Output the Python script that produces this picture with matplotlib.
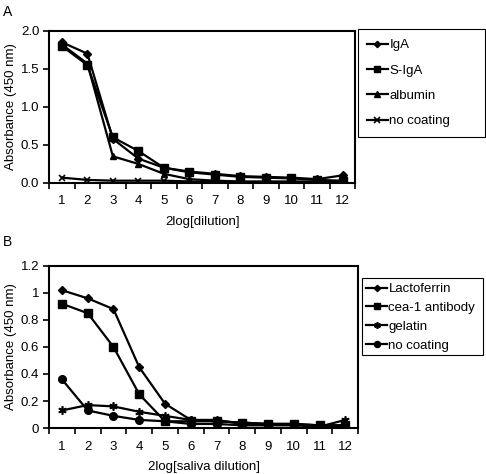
import numpy as np
import matplotlib
matplotlib.use('Agg')
import matplotlib.pyplot as plt
from matplotlib.ticker import FuncFormatter
from matplotlib.patches import Rectangle

plt.rcParams['font.family'] = ['Liberation Sans', 'DejaVu Sans']
plt.rcParams['font.size'] = 9.5

dil = np.arange(1, 13)

# panel A
iga = [1.85, 1.70, 0.58, 0.32, 0.20, 0.15, 0.12, 0.09, 0.08, 0.07, 0.05, 0.10]
sIga = [1.80, 1.55, 0.60, 0.42, 0.20, 0.14, 0.11, 0.08, 0.07, 0.06, 0.04, 0.03]
albumin = [1.82, 1.57, 0.35, 0.25, 0.12, 0.05, 0.03, 0.02, 0.02, 0.02, 0.02, 0.02]
noCoatA = [0.07, 0.04, 0.03, 0.03, 0.03, 0.02, 0.01, 0.01, 0.01, 0.01, 0.01, 0.01]

# panel B
lactoferrin = [1.02, 0.96, 0.88, 0.45, 0.18, 0.06, 0.05, 0.04, 0.03, 0.03, 0.02, 0.02]
cea1 = [0.92, 0.85, 0.60, 0.25, 0.05, 0.05, 0.05, 0.04, 0.03, 0.03, 0.02, 0.02]
gelatin = [0.13, 0.17, 0.16, 0.12, 0.09, 0.06, 0.06, 0.03, 0.03, 0.03, 0.01, 0.06]
noCoatB = [0.36, 0.13, 0.09, 0.06, 0.05, 0.03, 0.03, 0.02, 0.02, 0.02, 0.01, 0.01]

W, H = 486, 474
fig = plt.figure(figsize=(W / 100, H / 100), dpi=100)
axA = fig.add_axes([0.101, 0.614, 0.630, 0.321])
axB = fig.add_axes([0.101, 0.097, 0.636, 0.342])

def style(ax, ymax, ystep, xlabel, fmt):
    ax.set_xlim(0.5, 12.5)
    ax.set_ylim(0, ymax)
    ax.set_xticks(dil)
    ax.set_xticks(np.arange(0.5, 13, 1), minor=True)
    ax.tick_params(axis='x', which='major', length=0, pad=9)
    ax.tick_params(axis='x', which='minor', length=4, width=1.2, direction='out')
    ax.set_yticks(np.arange(0, ymax + 1e-9, ystep))
    ax.yaxis.set_major_formatter(FuncFormatter(fmt))
    ax.tick_params(axis='y', length=4, width=1.2, direction='out', pad=3)
    for s in ax.spines.values():
        s.set_linewidth(1.5)
    ax.set_xlabel(xlabel, labelpad=6)
    ax.set_ylabel('Absorbance (450 nm)', labelpad=3)

def box(x0, y0, x1, y1):
    fig.patches.append(Rectangle((x0 / W, 1 - y1 / H), (x1 - x0) / W, (y1 - y0) / H,
                                 transform=fig.transFigure, fill=False,
                                 edgecolor='k', lw=0.8))

kw = dict(color='k', lw=1.6)
axA.plot(dil, iga, marker='D', ms=4, label='IgA', **kw)
axA.plot(dil, sIga, marker='s', ms=5.5, label='S-IgA', **kw)
axA.plot(dil, albumin, marker='^', ms=5, label='albumin', **kw)
axA.plot(dil, noCoatA, marker='x', ms=5, mew=1.2, label='no coating', **kw)
style(axA, 2.0, 0.5, '2log[dilution]', lambda v, p: '%.1f' % v)

axB.plot(dil, lactoferrin, marker='D', ms=4, label='Lactoferrin', **kw)
axB.plot(dil, cea1, marker='s', ms=6, label='cea-1 antibody', **kw)
axB.plot(dil, gelatin, marker=(6, 2, 0), ms=6, mew=1.2, label='gelatin', **kw)
axB.plot(dil, noCoatB, marker='o', ms=5.5, label='no coating', **kw)
style(axB, 1.2, 0.2, '2log[saliva dilution]', lambda v, p: '%g' % round(v, 2))

axA.legend(loc='upper left', bbox_to_anchor=(359 / W, 1 - 31 / H),
           bbox_transform=fig.transFigure, frameon=False,
           handlelength=1.6, handletextpad=0.1,
           labelspacing=1.0, borderpad=0.6, borderaxespad=0, markerscale=0.8)
box(358, 29, 485, 137)
axB.legend(loc='upper left', bbox_to_anchor=(362 / W, 1 - 279 / H),
           bbox_transform=fig.transFigure, frameon=False,
           handlelength=1.6, handletextpad=0.1,
           labelspacing=0.5, borderpad=0.3, borderaxespad=0, markerscale=0.8)
box(362, 278, 483, 355)

fig.text(3 / W, 1 - 12 / H, 'A', fontsize=10, va='center')
fig.text(3 / W, 1 - 242 / H, 'B', fontsize=10, va='center')

fig.savefig('out.png', dpi=100)
